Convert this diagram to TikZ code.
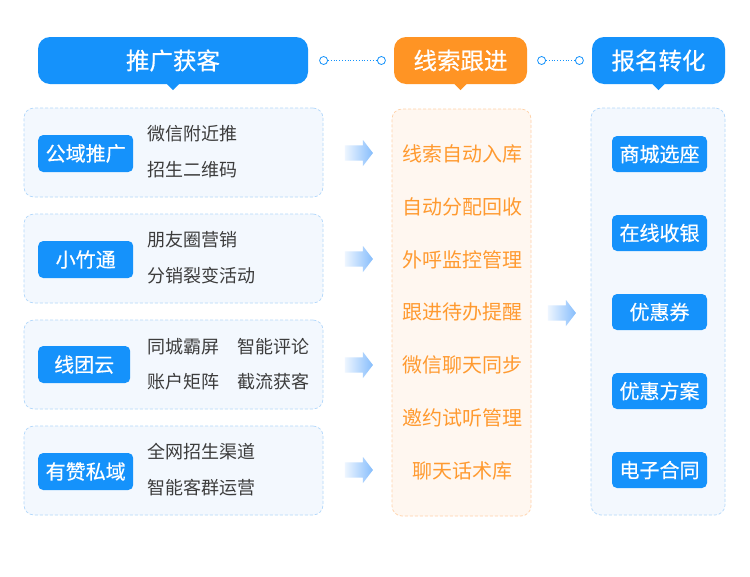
\documentclass[tikz,border=0pt]{standalone}
\usepackage{fontspec}
\setmainfont{Noto Sans CJK SC}
\newfontfamily\headfont{Noto Sans CJK SC}[FakeBold=0.5]
\usetikzlibrary{positioning}
\usetikzlibrary{shapes.arrows}
\definecolor{headblue}{HTML}{1592FB}
\definecolor{headorange}{HTML}{FF9424}
\definecolor{panelblue}{HTML}{F3F8FE}
\definecolor{panelline}{HTML}{B3D8FB}
\definecolor{panelorange}{HTML}{FFF7F0}
\definecolor{orangeline}{HTML}{FFD2A8}
\definecolor{leadtext}{HTML}{FF9A30}
\definecolor{itemtext}{HTML}{3C3C3C}
\definecolor{arrowblue}{HTML}{86BDFC}
\begin{document}
\begin{tikzpicture}[
x=1pt, y=-1pt,
head/.style ={rectangle, rounded corners=12pt, fill=#1, text=white,
  minimum height=47pt, inner sep=0pt,
  font=\headfont\fontsize{23.5}{25}\selectfont},
panel/.style ={rectangle, rounded corners=10pt, draw=panelline, fill=panelblue,
  line width=0.7pt, dash pattern=on 3pt off 2pt, minimum width=299pt, minimum height=89pt},
tag/.style ={rectangle, rounded corners=5pt, fill=headblue, text=white,
  minimum width=95pt, minimum height=37pt, inner sep=0pt,
  font=\headfont\fontsize{20}{22}\selectfont},
item/.style ={anchor=west, inner sep=0pt, text=itemtext,
  font=\fontsize{18}{20}\selectfont},
lead/.style ={inner sep=0pt, text=leadtext, font=\fontsize{20}{22}\selectfont},
flow/.style ={single arrow, draw=none, minimum height=28pt, minimum width=26pt,
  single arrow head extend=5pt, single arrow tip angle=105, inner sep=7pt,
  left color=arrowblue!15, right color=arrowblue},
dot/.style ={circle, draw=headblue, fill=white, line width=0.8pt,
  minimum size=8pt, inner sep=0pt},
link/.style ={draw=headblue, dotted, line width=0.8pt}
]
\useasboundingbox[fill=white] (0,0) rectangle (750,576);

% column headers
\node[head=headblue, minimum width=270pt] (h1) at (173,60.5) {推广获客};
\node[head=headorange, minimum width=133pt] (h2) at (460.5,60.5) {线索跟进};
\node[head=headblue, minimum width=133pt] (h3) at (658.5,60.5) {报名转化};
\fill[headblue] ([xshift=-6pt]h1.south) -- ++(6pt,-6pt) -- ++(6pt,6pt) -- cycle;
\fill[headorange] ([xshift=-6pt]h2.south) -- ++(6pt,-6pt) -- ++(6pt,6pt) -- cycle;
\fill[headblue] ([xshift=-6pt]h3.south) -- ++(6pt,-6pt) -- ++(6pt,6pt) -- cycle;

\node[dot] (c1) [right=11pt of h1] {};
\node[dot] (c2) [left=8pt of h2] {};
\node[dot] (c3) [right=10pt of h2] {};
\node[dot] (c4) [left=8pt of h3] {};
\path[link] (c1) -- (c2);
\path[link] (c3) -- (c4);

% left column
\node[panel] (p1) at (173.5,152.5) {};
\node[panel] (p2) at (173.5,258.5) {};
\node[panel] (p3) at (173.5,364.5) {};
\node[panel] (p4) at (173.5,470.5) {};

\node[tag, anchor=west] (t1) at (38,153.5) {公域推广};
\node[tag, anchor=west] (t2) at (38,259.5) {小竹通};
\node[tag, anchor=west, minimum width=92pt] (t3) at (38,364.5) {线团云};
\node[tag, anchor=west] (t4) at (38,471.5) {有赞私域};

\node[item] (a1) at (147,134) {微信附近推};
\node[item] (a2) at (147,170) {招生二维码};
\node[item] (b1) at (147,240) {朋友圈营销};
\node[item] (b2) at (147,276) {分销裂变活动};
\node[item] (d1) at (147,347) {同城霸屏};
\node[item] (d2) at (237,347) {智能评论};
\node[item] (d3) at (147,382) {账户矩阵};
\node[item] (d4) at (237,382) {截流获客};
\node[item] (e1) at (147,452) {全网招生渠道};
\node[item] (e2) at (147,488) {智能客群运营};

\foreach \y [count=\i] in {153,259,365,470}
  \node[flow] (f\i) at (356,\y) {};

% middle column
\node[panel, draw=orangeline, fill=panelorange, minimum width=139pt,
  minimum height=407pt] (mid) at (461.5,312.5) {};
\foreach \txt [count=\i] in {线索自动入库, 自动分配回收, 外呼监控管理,
  跟进待办提醒, 微信聊天同步, 邀约试听管理, 聊天话术库}
  \node[lead] (l\i) at (462,101.2+52.8*\i) {\txt};

\node[flow] (f5) at (559,313) {};

% right column
\node[panel, minimum width=134pt, minimum height=407pt] (res) at (658,311.5) {};
\foreach \txt [count=\i] in {商城选座, 在线收银, 优惠券, 优惠方案, 电子合同}
  \node[tag, minimum height=36pt] (r\i) at (659.5,75+79*\i) {\txt};
\end{tikzpicture}
\end{document}
